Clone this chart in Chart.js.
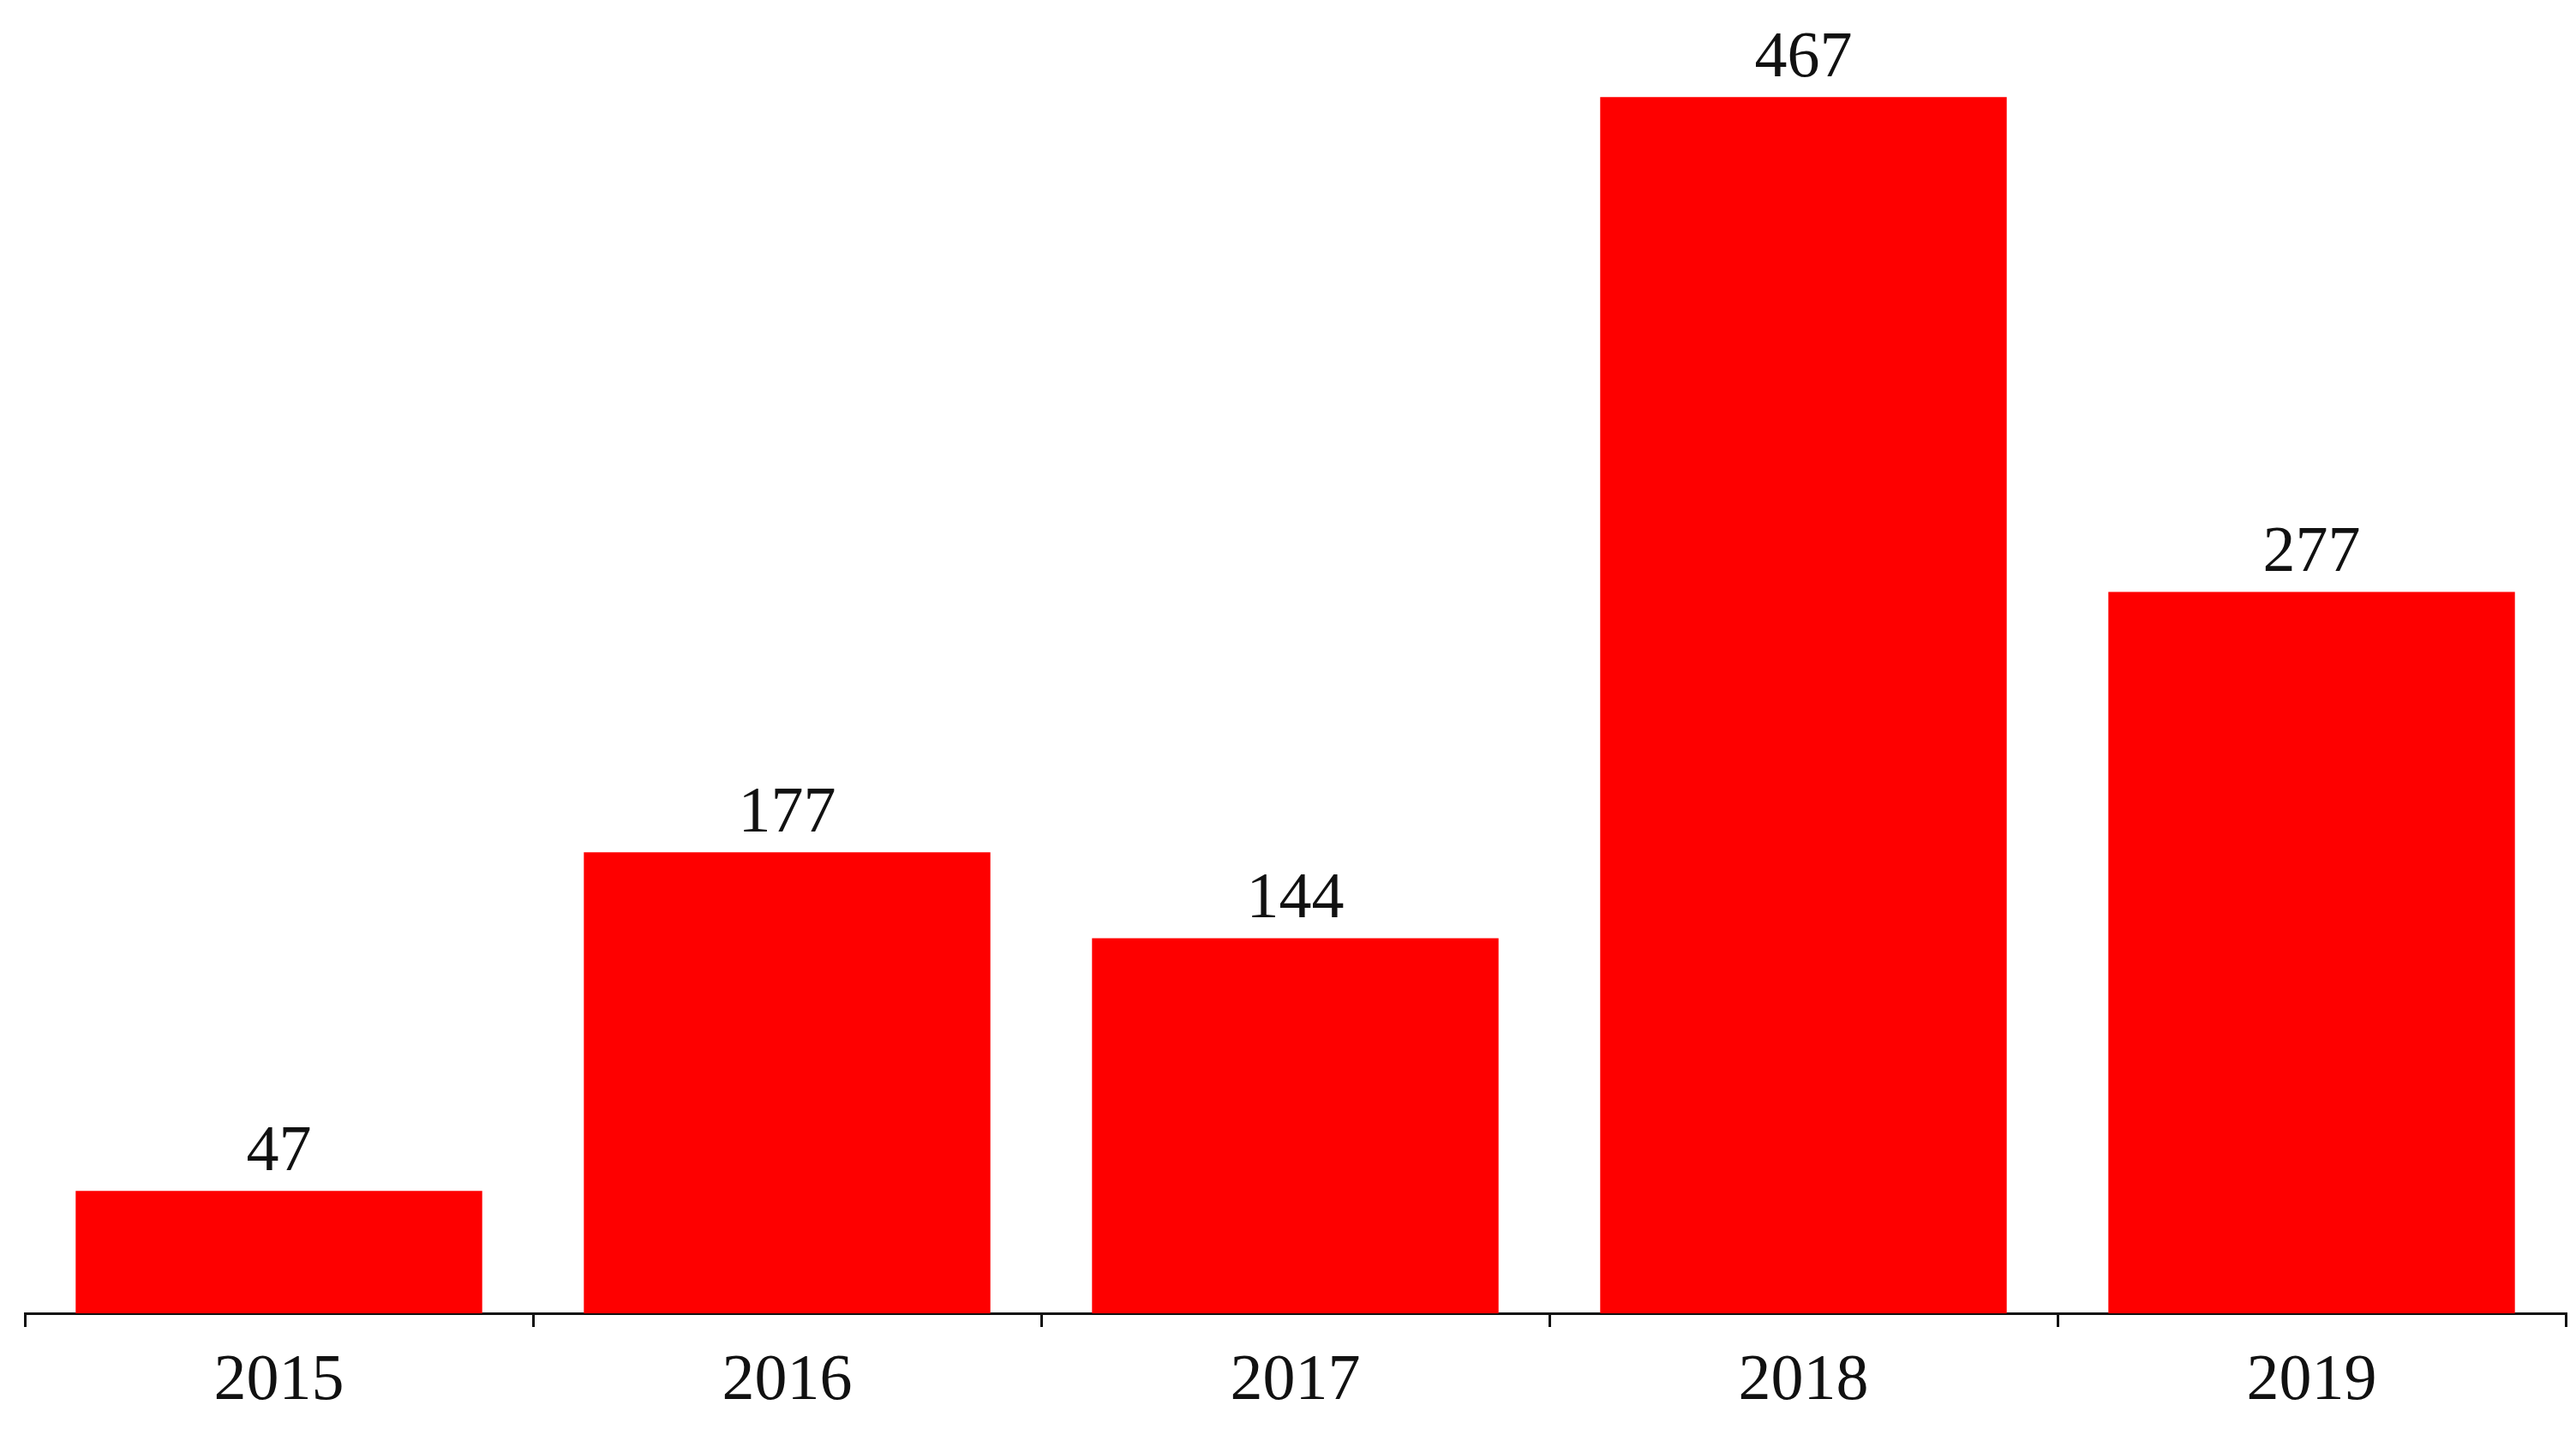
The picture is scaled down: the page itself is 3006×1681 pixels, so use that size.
<!DOCTYPE html>
<html><head><meta charset="utf-8">
<script src="https://cdn.jsdelivr.net/npm/chart.js@4"></script>
<style>html,body{margin:0;padding:0;background:#fff}#w{width:3006px;height:1681px}</style>
</head><body><div id="w"><canvas id="c"></canvas></div>
<script>
const categories = ["2015","2016","2017","2018","2019"];
const values = [47,177,144,467,277];
const labelPlugin = {
  id:'vals',
  afterDatasetsDraw(chart){
    const ctx=chart.ctx, meta=chart.getDatasetMeta(0);
    ctx.save();
    ctx.font='76px "Liberation Serif", "DejaVu Serif", serif';
    ctx.fillStyle='#111'; ctx.textAlign='center'; ctx.textBaseline='bottom';
    meta.data.forEach((b,i)=>ctx.fillText(String(values[i]), b.x, b.y-6));
    ctx.restore();
  }
};
new Chart(document.getElementById('c'),{
  type:'bar',
  data:{labels:categories,datasets:[{data:values,backgroundColor:'#fe0000',categoryPercentage:1,barPercentage:0.8}]},
  options:{
    responsive:true,maintainAspectRatio:false,animation:false,devicePixelRatio:1,
    layout:{padding:{left:29,right:12,top:13,bottom:0}},
    plugins:{legend:{display:false},tooltip:{enabled:false}},
    scales:{
      y:{display:false,min:0,max:500},
      x:{
        afterFit(s){s.height=149;},
        border:{color:'#111',width:3},
        grid:{drawOnChartArea:false,offset:true,tickLength:16,color:'#111',lineWidth:3},
        ticks:{padding:18,color:'#111',font:{family:'"Liberation Serif", "DejaVu Serif", serif',size:76}}
      }
    }
  },
  plugins:[labelPlugin]
});
</script></body></html>
